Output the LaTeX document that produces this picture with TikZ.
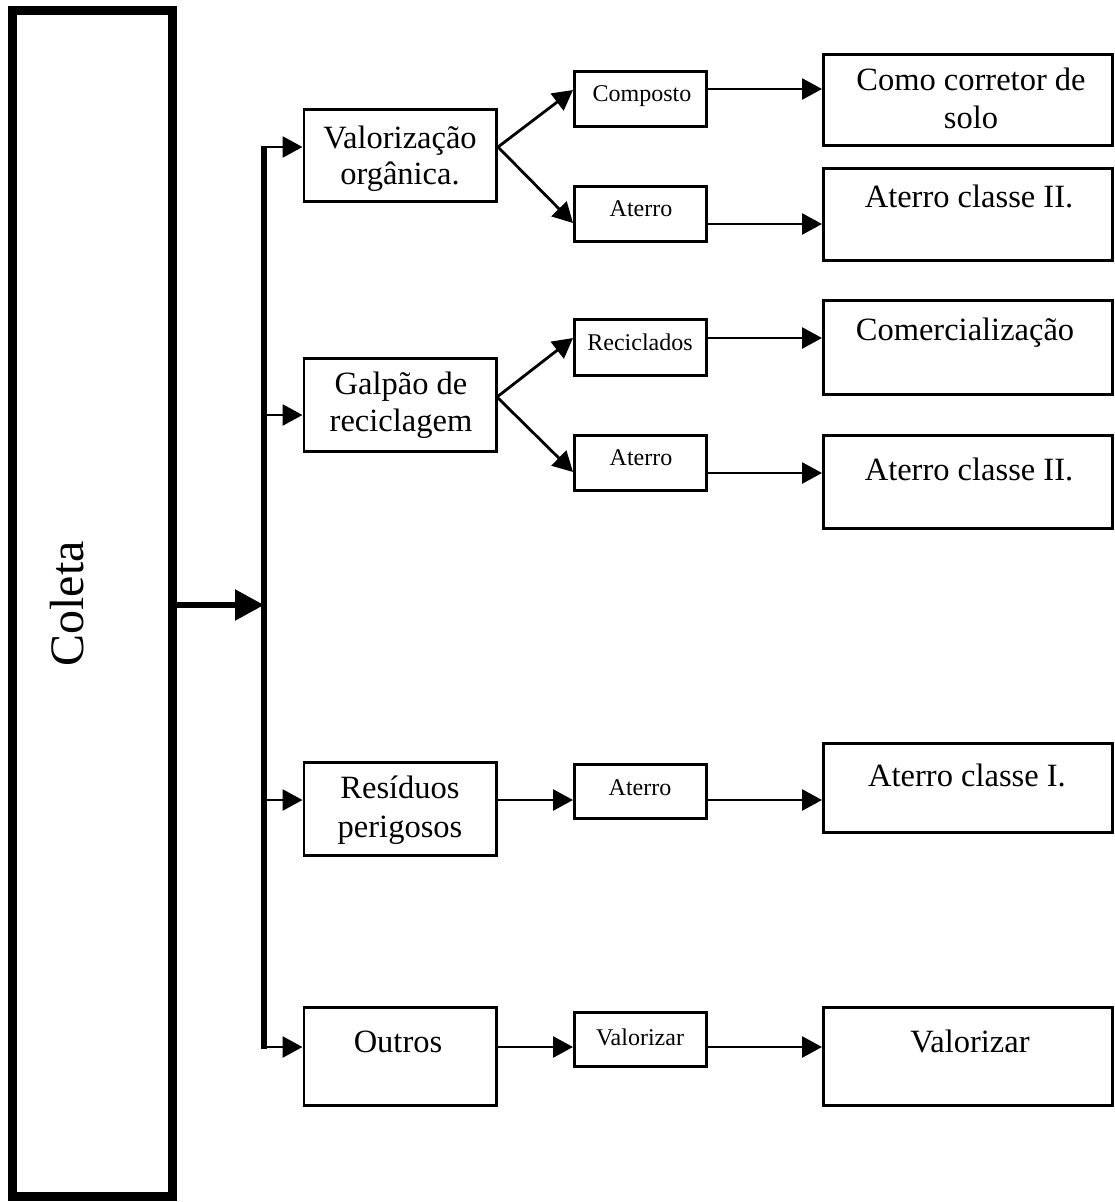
\documentclass[tikz,border=0pt]{standalone}
\usepackage{fontspec}
\setmainfont{Liberation Serif}
\usetikzlibrary{arrows.meta}

\tikzset{
  box/.style={draw, line width=2.6pt, rectangle, inner sep=0pt},
  bigtxt/.style={font=\fontsize{32.5}{37}\selectfont, anchor=base, inner sep=0pt},
  smalltxt/.style={font=\fontsize{24}{28}\selectfont, anchor=base, inner sep=0pt},
  arr/.style={line width=2.8pt, -{Triangle[length=20pt,width=21pt]}},
  feed/.style={line width=5.5pt, -{Triangle[length=29pt,width=30pt]}},
  bus/.style={line width=6pt, shorten <=-1.5pt, shorten >=-1.5pt}
}

\begin{document}
\begin{tikzpicture}[x=1pt,y=-1pt]
\useasboundingbox (0,0) rectangle (1114,1202);

% collection column
\node[draw, line width=9pt, inner sep=0pt, minimum width=160pt, minimum height=1186pt] (coleta) at (92.5,603) {};
\node[rotate=90, anchor=base, inner sep=0pt, font=\fontsize{48}{58}\selectfont] (coletatxt) at (83,604) {Coleta};

% first level
\node[box, minimum width=192.4pt, minimum height=92.4pt] (val)  at (400,155.5) {};
\node[box, minimum width=192.4pt, minimum height=93.4pt] (galp) at (400,405) {};
\node[box, minimum width=192.4pt, minimum height=93.4pt] (res)  at (400,809) {};
\node[box, minimum width=192.4pt, minimum height=98.4pt] (out)  at (400,1056.5) {};

% second level
\node[box, minimum width=132.4pt, minimum height=55.4pt] (comp) at (640.5,99) {};
\node[box, minimum width=132.4pt, minimum height=55.4pt] (at1)  at (640.5,214) {};
\node[box, minimum width=132.4pt, minimum height=56.4pt] (rec)  at (640.5,347.5) {};
\node[box, minimum width=132.4pt, minimum height=55.4pt] (at2)  at (640.5,463) {};
\node[box, minimum width=132.4pt, minimum height=54.4pt] (at3)  at (640.5,791.5) {};
\node[box, minimum width=132.4pt, minimum height=54.4pt] (valz) at (640.5,1039.5) {};

% destinations
\node[box, minimum width=289.4pt, minimum height=91.4pt] (corr) at (968,100) {};
\node[box, minimum width=289.4pt, minimum height=92.4pt] (cl2a) at (968,214.5) {};
\node[box, minimum width=289.4pt, minimum height=94.4pt] (com)  at (968,347.5) {};
\node[box, minimum width=289.4pt, minimum height=93.4pt] (cl2b) at (968,482) {};
\node[box, minimum width=289.4pt, minimum height=89.4pt] (cl1)  at (968,788) {};
\node[box, minimum width=289.4pt, minimum height=98.4pt] (valL) at (968,1056.5) {};

% labels
\node[bigtxt] (val1) at (400,148) {Valorização};
\node[bigtxt] (val2) at (400,184) {orgânica.};
\node[bigtxt] (galp1) at (401,394) {Galpão de};
\node[bigtxt] (galp2) at (401,431) {reciclagem};
\node[bigtxt] (res1) at (400,798) {Resíduos};
\node[bigtxt] (res2) at (400,837) {perigosos};
\node[bigtxt] (out1) at (398,1052) {Outros};

\node[smalltxt] (comp1) at (642,101) {Composto};
\node[smalltxt] (at1t) at (641,216) {Aterro};
\node[smalltxt] (rec1) at (640,350) {Reciclados};
\node[smalltxt] (at2t) at (641,465) {Aterro};
\node[smalltxt] (at3t) at (640,795) {Aterro};
\node[smalltxt] (valz1) at (640,1045) {Valorizar};

\node[bigtxt] (corr1) at (971,90) {Como corretor de};
\node[bigtxt] (corr2) at (971,128) {solo};
\node[bigtxt] (cl2a1) at (969,207) {Aterro classe II.};
\node[bigtxt] (com1) at (965,340) {Comercialização};
\node[bigtxt] (cl2b1) at (969,480) {Aterro classe II.};
\node[bigtxt] (cl11) at (967,786) {Aterro classe I.};
\node[bigtxt] (valL1) at (970,1052) {Valorizar};

% distribution bus
\coordinate (bfeed) at (264,605);
\coordinate (b1) at (264,147);
\coordinate (b2) at (264,415);
\coordinate (b3) at (264,800);
\coordinate (b4) at (264,1047);
\draw[feed] (coleta.east |- bfeed) -- (bfeed);
\draw[bus] (b1) -- (b4);
\draw[arr] (b1) -- (val.west |- b1);
\draw[arr] (b2) -- (galp.west |- b2);
\draw[arr] (b3) -- (res.west |- b3);
\draw[arr] (b4) -- (out.west |- b4);

% organic branch
\coordinate (vo) at (498,147);
\draw[arr] (vo) -- (comp.west |- 0,90);
\draw[arr] (vo) -- (at1.west |- 0,223);
\draw[arr] (comp.east |- 0,89) -- (corr.west |- 0,89);
\draw[arr] (at1.east |- 0,224) -- (cl2a.west |- 0,224);

% recycling branch
\coordinate (go) at (497,397);
\draw[arr] (go) -- (rec.west |- 0,338);
\draw[arr] (go) -- (at2.west |- 0,472);
\draw[arr] (rec.east |- 0,338) -- (com.west |- 0,338);
\draw[arr] (at2.east |- 0,473) -- (cl2b.west |- 0,473);

% hazardous and other waste
\draw[arr] (res.east |- b3) -- (at3.west |- b3);
\draw[arr] (at3.east |- b3) -- (cl1.west |- b3);
\draw[arr] (out.east |- b4) -- (valz.west |- b4);
\draw[arr] (valz.east |- b4) -- (valL.west |- b4);
\end{tikzpicture}
\end{document}
